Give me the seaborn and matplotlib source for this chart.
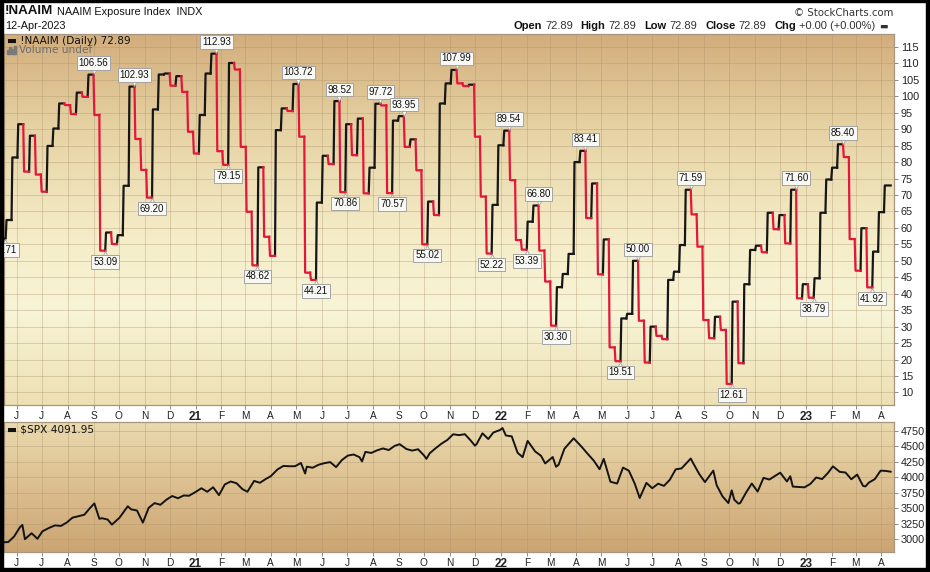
import numpy as np
import pandas as pd
import matplotlib
matplotlib.use("Agg")
import matplotlib.pyplot as plt
import matplotlib.dates as mdates
from matplotlib.ticker import FixedLocator
from matplotlib.transforms import offset_copy
from matplotlib.patches import Rectangle
from matplotlib.colors import LinearSegmentedColormap
import seaborn as sns

# ---------------- data ----------------
naaim_start_date = "2020-05-18"
naaim_start_value = 56.71
naaim_first_week = "2020-05-20"
naaim_last_date = "2023-04-12"
naaim_values = [
    62.4, 81.4, 91.5, 77.1, 88.0, 76.2, 71.0, 84.9, 90.2, 97.8,
    97.3, 94.6, 101.1, 99.8, 106.56, 94.3, 53.09, 58.6, 55.1, 57.8,
    72.8, 102.93, 87.0, 77.6, 69.20, 96.0, 106.6, 106.9, 103.2, 106.1,
    101.3, 89.2, 82.6, 94.3, 106.9, 112.93, 83.3, 79.15, 110.1, 108.1,
    84.6, 64.9, 48.62, 78.4, 57.3, 51.5, 89.7, 96.3, 95.5, 103.72,
    87.7, 46.4, 44.21, 67.7, 81.9, 79.4, 98.52, 70.86, 91.5, 82.1,
    93.2, 70.5, 78.3, 97.72, 97.2, 70.57, 92.6, 93.95, 84.6, 86.9,
    77.5, 55.02, 68.0, 63.9, 97.8, 103.9, 107.99, 103.9, 103.1, 103.5,
    87.7, 69.5, 52.22, 67.0, 85.1, 89.54, 74.5, 56.3, 53.39, 61.9,
    66.80, 53.1, 43.7, 30.30, 42.0, 46.0, 52.1, 80.0, 83.41, 63.0,
    73.5, 45.9, 56.5, 23.7, 19.51, 32.5, 33.9, 50.00, 31.8, 19.1,
    30.0, 27.2, 26.2, 44.2, 46.7, 54.8, 71.59, 64.1, 54.3, 32.0,
    26.5, 33.0, 29.0, 12.61, 37.6, 18.9, 42.9, 53.3, 54.6, 52.6,
    64.6, 59.6, 63.9, 55.3, 71.60, 38.6, 42.9, 38.79, 44.7, 64.6,
    74.7, 78.3, 85.40, 81.5, 56.6, 47.0, 59.9, 41.92, 52.8, 64.8,
    72.89,
]
naaim_peak_weeks = [14, 21, 35, 49, 56, 63, 67, 76, 85, 90, 98, 107, 116, 134, 142]
naaim_trough_weeks = [16, 24, 37, 42, 52, 57, 65, 71, 82, 88, 93, 104, 123, 137, 147]

spx_dates = [
    "2020-05-18", "2020-05-22", "2020-05-29", "2020-06-05", "2020-06-08", "2020-06-11",
    "2020-06-19", "2020-06-26", "2020-07-02", "2020-07-10", "2020-07-17", "2020-07-24",
    "2020-07-31", "2020-08-07", "2020-08-14", "2020-08-21", "2020-08-28", "2020-09-02",
    "2020-09-08", "2020-09-11", "2020-09-18", "2020-09-23", "2020-10-02", "2020-10-12",
    "2020-10-16", "2020-10-23", "2020-10-30", "2020-11-06", "2020-11-13", "2020-11-20",
    "2020-11-27", "2020-12-04", "2020-12-11", "2020-12-18", "2020-12-24", "2020-12-31",
    "2021-01-08", "2021-01-15", "2021-01-22", "2021-01-29", "2021-02-05", "2021-02-12",
    "2021-02-19", "2021-02-26", "2021-03-04", "2021-03-12", "2021-03-19", "2021-03-26",
    "2021-04-01", "2021-04-09", "2021-04-16", "2021-04-23", "2021-04-30", "2021-05-07",
    "2021-05-12", "2021-05-14", "2021-05-21", "2021-05-28", "2021-06-04", "2021-06-11",
    "2021-06-18", "2021-06-25", "2021-07-02", "2021-07-09", "2021-07-16", "2021-07-19",
    "2021-07-23", "2021-07-30", "2021-08-06", "2021-08-13", "2021-08-20", "2021-08-27",
    "2021-09-02", "2021-09-10", "2021-09-17", "2021-09-24", "2021-10-01", "2021-10-04",
    "2021-10-08", "2021-10-15", "2021-10-22", "2021-10-29", "2021-11-05", "2021-11-12",
    "2021-11-19", "2021-11-26", "2021-12-01", "2021-12-03", "2021-12-10", "2021-12-17",
    "2021-12-23", "2021-12-31", "2022-01-03", "2022-01-07", "2022-01-14", "2022-01-21",
    "2022-01-27", "2022-02-02", "2022-02-11", "2022-02-18", "2022-02-23", "2022-03-04",
    "2022-03-08", "2022-03-11", "2022-03-18", "2022-03-29", "2022-04-08", "2022-04-14",
    "2022-04-22", "2022-04-29", "2022-05-04", "2022-05-12", "2022-05-20", "2022-05-27",
    "2022-06-03", "2022-06-10", "2022-06-16", "2022-06-24", "2022-07-01", "2022-07-08",
    "2022-07-15", "2022-07-22", "2022-07-29", "2022-08-05", "2022-08-16", "2022-08-19",
    "2022-08-26", "2022-09-02", "2022-09-12", "2022-09-16", "2022-09-23", "2022-09-30",
    "2022-10-04", "2022-10-07", "2022-10-12", "2022-10-14", "2022-10-21", "2022-10-28",
    "2022-11-04", "2022-11-11", "2022-11-18", "2022-11-25", "2022-12-01", "2022-12-09",
    "2022-12-13", "2022-12-16", "2022-12-23", "2022-12-30", "2023-01-06", "2023-01-13",
    "2023-01-20", "2023-01-27", "2023-02-02", "2023-02-10", "2023-02-17", "2023-02-24",
    "2023-03-03", "2023-03-10", "2023-03-13", "2023-03-17", "2023-03-24", "2023-03-31",
    "2023-04-06", "2023-04-12",
]
spx_values = [
    2954, 2955, 3044, 3194, 3232, 3002,
    3098, 3009, 3130, 3185, 3225, 3216,
    3271, 3351, 3373, 3397, 3508, 3580,
    3332, 3341, 3319, 3237, 3348, 3534,
    3484, 3465, 3270, 3509, 3585, 3558,
    3638, 3699, 3663, 3709, 3703, 3756,
    3825, 3768, 3841, 3714, 3887, 3934,
    3906, 3811, 3768, 3943, 3913, 3975,
    4020, 4129, 4185, 4180, 4181, 4233,
    4063, 4174, 4156, 4204, 4230, 4247,
    4166, 4281, 4352, 4370, 4327, 4258,
    4412, 4395, 4437, 4468, 4442, 4509,
    4537, 4459, 4433, 4455, 4357, 4300,
    4391, 4471, 4545, 4605, 4697, 4683,
    4698, 4595, 4513, 4538, 4712, 4620,
    4725, 4766, 4797, 4677, 4663, 4398,
    4327, 4590, 4419, 4349, 4226, 4329,
    4171, 4204, 4463, 4632, 4488, 4393,
    4272, 4132, 4300, 3930, 3901, 4158,
    4109, 3901, 3667, 3912, 3825, 3899,
    3863, 3962, 4130, 4145, 4305, 4228,
    4058, 3924, 4110, 3873, 3693, 3586,
    3791, 3640, 3577, 3583, 3752, 3901,
    3771, 3993, 3965, 4026, 4076, 3934,
    4019, 3852, 3845, 3840, 3895, 3999,
    3973, 4071, 4179, 4090, 4079, 3970,
    4046, 3862, 3855, 3917, 3971, 4109,
    4105, 4092,
]

month_tick_dates = pd.date_range("2020-06-01", "2023-04-01", freq="MS")
month_labels = ["J", "J", "A", "S", "O", "N", "D", "21", "F", "M", "A", "M",
                "J", "J", "A", "S", "O", "N", "D", "22", "F", "M", "A", "M",
                "J", "J", "A", "S", "O", "N", "D", "23", "F", "M", "A"]
naaim_yticks = list(range(10, 120, 5))
spx_yticks = [3000, 3250, 3500, 3750, 4000, 4250, 4500, 4750]

# ---------------- build step segments ----------------
week_dates = pd.date_range(naaim_first_week, periods=len(naaim_values), freq="7D")
end_date = pd.Timestamp(naaim_last_date)
one = pd.Timedelta(days=1)
rows = []
plateau_end = []
prev = naaim_start_value
for k, (d, v) in enumerate(zip(week_dates, naaim_values)):
    nxt = week_dates[k + 1] - one if k + 1 < len(week_dates) else end_date
    plateau_end.append(nxt)
    direction = "down" if v < prev else "up"
    pts = []
    if k == 0:
        pts.append((pd.Timestamp(naaim_start_date), prev))
    pts += [(d - one, prev), (d, v), (nxt, v)]
    for x, y in pts:
        rows.append({"date": x, "value": y, "seg": k, "dir": direction})
    prev = v
naaim_df = pd.DataFrame(rows)

spx_df = pd.DataFrame({"date": pd.to_datetime(spx_dates), "close": spx_values})

# ---------------- figure ----------------
W, H = 930, 572
fig = plt.figure(figsize=(W / 100, H / 100), dpi=100)
fig.patch.set_facecolor("white")


def rect(x0, y0, x1, y1):
    return [x0 / W, 1 - y1 / H, (x1 - x0) / W, (y1 - y0) / H]


def px(x, y):
    return x / W, 1 - y / H


up_rect = rect(4, 34, 894, 405)
lo_rect = rect(4, 422, 894, 552)

# gradient backgrounds
up_cmap = LinearSegmentedColormap.from_list(
    "up", [(0.0, "#ede0b3"), (0.25, "#f8f4d7"), (0.45, "#f5edc8"), (0.75, "#e6d2a3"), (1.0, "#d3ad7c")])
lo_cmap = LinearSegmentedColormap.from_list(
    "lo", [(0.0, "#cca473"), (0.5, "#dcbf8f"), (1.0, "#eadaae")])
grad = np.linspace(0, 1, 256).reshape(-1, 1)
for r, cm in ((up_rect, up_cmap), (lo_rect, lo_cmap)):
    bg = fig.add_axes(r, zorder=-5)
    bg.imshow(grad, aspect="auto", cmap=cm, origin="lower", extent=[0, 1, 0, 1])
    bg.axis("off")

ax1 = fig.add_axes(up_rect)
ax2 = fig.add_axes(lo_rect)

sns.lineplot(data=naaim_df, x="date", y="value", hue="dir", units="seg",
             estimator=None, sort=False, palette={"up": "#161616", "down": "#e3173a"},
             linewidth=1.6, legend=False, ax=ax1, zorder=3)
sns.lineplot(data=spx_df, x="date", y="close", color="#141414", linewidth=1.4,
             ax=ax2, zorder=3)

xlim = (pd.Timestamp("2020-05-17"), pd.Timestamp("2023-04-16"))
for ax in (ax1, ax2):
    ax.set_facecolor("none")
    ax.set_xlim(*xlim)
    ax.set_xlabel("")
    ax.set_ylabel("")
    ax.set_axisbelow(True)
    ax.xaxis.set_major_locator(FixedLocator(mdates.date2num(month_tick_dates)))
    ax.set_xticklabels(month_labels)
    for lab, txt in zip(ax.get_xticklabels(), month_labels):
        lab.set_fontweight("bold" if txt.isdigit() else "normal")
        lab.set_fontsize(8.5 if txt.isdigit() else 7.3)
        lab.set_family("Liberation Sans")
    ax.yaxis.tick_right()
    ax.tick_params(axis="x", direction="out", length=3, width=0.7, color="#8c8c8c",
                   pad=1.5, labelcolor="#222222")
    ax.tick_params(axis="y", direction="out", length=3, width=0.7, color="#8c8c8c",
                   pad=2, labelsize=7.8, labelcolor="#222222")
    ax.grid(True, color="#a88f6a", alpha=0.35, linewidth=0.7)
    for s in ax.spines.values():
        s.set_color("#a8957d")
        s.set_linewidth(0.9)

ax1.set_yticks(naaim_yticks)
ax1.set_ylim(6.2, 118.9)
ax2.set_yticks(spx_yticks)
ax2.set_ylim(2795, 4895)
for ax in (ax1, ax2):
    for lab in ax.get_yticklabels():
        lab.set_family("Liberation Sans")
        lab.set_fontsize(7.8)

# ---------------- peak / trough labels ----------------
box = dict(boxstyle="square,pad=0.18", fc="#f8f8f5", ec="#a3a3a3", lw=0.7)


def label(xdate, val, up, clip=False):
    xn = mdates.date2num(xdate)
    off = 8.3 if up else -8.0
    ax1.annotate(f"{val:.2f}", xy=(xn, val), xytext=(0, off), textcoords="offset points",
                 ha="center", va="center", fontsize=7.0, family="Liberation Sans",
                 color="#111111", bbox=box, zorder=6, clip_on=clip)
    tr = offset_copy(ax1.transData, fig=fig, x=0, y=(3.2 if up else -3.2), units="points")
    ax1.plot([xn], [val], marker="v" if up else "^", ms=5.5, mfc="#f8f8f5", mec="#a3a3a3",
             mew=0.6, transform=tr, zorder=5, clip_on=False)


label(pd.Timestamp(naaim_start_date), naaim_start_value, False, clip=True)
for k in naaim_peak_weeks:
    label(plateau_end[k], naaim_values[k], True)
for k in naaim_trough_weeks:
    label(plateau_end[k], naaim_values[k], False)

# ---------------- header texts ----------------
fig.text(*px(5, 11), "!NAAIM", fontsize=9.6, fontweight="bold", family="Liberation Sans",
         va="center", ha="left", color="#111111")
fig.text(*px(57, 12), "NAAIM Exposure Index  INDX", fontsize=7.8, family="Liberation Sans",
         va="center", ha="left", color="#111111")
fig.text(*px(5, 26), "12-Apr-2023", fontsize=7.8, family="Liberation Sans",
         va="center", ha="left", color="#111111")
fig.text(*px(893, 13), "\u00a9 StockCharts.com", fontsize=7.3, family="DejaVu Sans",
         va="center", ha="right", color="#333333")

pieces = [("Open", True), ("72.89", False), ("High", True), ("72.89", False),
          ("Low", True), ("72.89", False), ("Close", True), ("72.89", False),
          ("Chg", True), ("+0.00 (+0.00%)", False), ("\u25ac", False)]
anchor = fig.text(*px(513, 29), pieces[0][0], fontsize=8, fontweight="bold",
                  family="Liberation Sans", va="baseline", ha="left", color="#111111")
for txt, bold in pieces[1:]:
    gap = 2.5 if not bold else 5.5
    is_mark = txt == "\u25ac"
    anchor = fig.axes[-1].annotate(
        txt, xy=(1, 0), xycoords=anchor, xytext=(gap, 0), textcoords="offset points",
        va="bottom", ha="left", fontsize=6.5 if is_mark else 8,
        fontweight="bold" if bold else "normal",
        family="DejaVu Sans" if is_mark else "Liberation Sans",
        color="#111111" if bold else "#333333", annotation_clip=False)

# in-panel legends
fig.text(*px(7, 41), "\u25ac !NAAIM (Daily) 72.89", fontsize=7.6, family="DejaVu Sans",
         va="center", ha="left", color="#111111")
fig.text(*px(19, 50), "Volume undef", fontsize=7.6, family="DejaVu Sans",
         va="center", ha="left", color="#6e6e6e")
for i, h in enumerate([4, 7, 5, 8]):
    fig.patches.append(Rectangle(px(7 + i * 2.4, 54), 1.7 / W, h / H,
                                 transform=fig.transFigure, color="#7a7a7a"))
fig.text(*px(7, 430), "\u25ac $SPX 4091.95", fontsize=7.6, family="DejaVu Sans",
         va="center", ha="left", color="#111111")

# black frame around screenshot
for (x0, y0, x1, y1) in [(0, 0, 3, 572), (926, 0, 930, 572), (0, 568, 930, 572), (0, 0, 930, 2)]:
    fig.patches.append(Rectangle(px(x0, y1), (x1 - x0) / W, (y1 - y0) / H,
                                 transform=fig.transFigure, color="black", zorder=10))

fig.savefig("out.png", dpi=100)
